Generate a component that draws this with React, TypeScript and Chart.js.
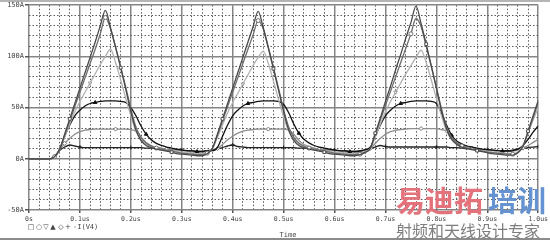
import React, { useEffect, useRef } from "react";
import { Chart, registerables } from "chart.js";

Chart.register(...registerables);

// time axis samples (us)
const times = [
  0, 0.01, 0.02, 0.03, 0.04, 0.05, 0.06, 0.07, 0.08, 0.09,
  0.1, 0.11, 0.12, 0.13, 0.14, 0.15, 0.16, 0.17, 0.18, 0.19,
  0.2, 0.21, 0.22, 0.23, 0.24, 0.25, 0.26, 0.27, 0.28, 0.29,
  0.3, 0.31, 0.32, 0.33, 0.34, 0.35, 0.36, 0.37, 0.38, 0.39,
  0.4, 0.41, 0.42, 0.43, 0.44, 0.45, 0.46, 0.47, 0.48, 0.49,
  0.5, 0.51, 0.52, 0.53, 0.54, 0.55, 0.56, 0.57, 0.58, 0.59,
  0.6, 0.61, 0.62, 0.63, 0.64, 0.65, 0.66, 0.67, 0.68, 0.69,
  0.7, 0.71, 0.72, 0.73, 0.74, 0.75, 0.76, 0.77, 0.78, 0.79,
  0.8, 0.81, 0.82, 0.83, 0.84, 0.85, 0.86, 0.87, 0.88, 0.89,
  0.9, 0.91, 0.92, 0.93, 0.94, 0.95, 0.96, 0.97, 0.98, 0.99,
  1.0,
];

// -I(V4) for six swept parameter values (A)
const seriesA = [
  0, 0, 0, 0, 0, 2, 9, 24, 39, 54, 69, 84, 99, 114, 130, 145, 128, 109, 89, 68,
  46, 28, 18, 13, 11, 9.5, 8.5, 7.5, 6.5, 5, 4.5, 4, 3.5, 3, 3, 5,
  10, 24, 39, 54, 69, 84, 99, 114, 129, 144, 128, 108, 88, 67, 46, 28, 18, 13, 11, 9.5,
  8.5, 7.5, 6.5, 5, 4.5, 4, 3.5, 3, 3, 4,
  6, 10, 25, 40, 56, 71, 87, 102, 118, 133, 149, 132, 112, 91, 69, 47, 29, 19, 14, 11.5,
  10, 9, 8, 7, 6, 5, 4.5, 4, 3.5, 3.5,
  6, 12, 27, 42, 57,
];
const seriesB = [
  0, 0, 0, 0, 0, 2, 9, 23, 37, 51, 65, 79, 93, 107, 122, 138, 127, 109, 90, 70,
  49, 31, 21, 15.5, 12.5, 10.5, 9.5, 8.5, 7.5, 6.5, 5.5, 5, 4.5, 4, 4, 5.5,
  10, 23, 37, 51, 65, 79, 93, 107, 121, 135, 127, 109, 89, 69, 48, 31, 21, 15.5, 12.5, 10.5,
  9.5, 8.5, 7.5, 6.5, 5.5, 5, 4.5, 4, 4, 4.5,
  6.5, 10, 24, 38, 52, 66, 80, 94, 108, 122, 137, 129, 110, 90, 70, 49, 31, 21, 15.5, 12.5,
  10.5, 9.5, 8.5, 7.5, 6.5, 6, 5.5, 5, 4.5, 4.5,
  6, 12, 26, 40, 55,
];
const seriesC = [
  0, 0, 0, 0, 0, 2, 9, 21, 34, 46, 56, 65, 74, 83, 92, 100, 107, 94, 77, 59,
  42, 27, 19, 14.5, 12, 10.5, 9.5, 8.5, 7.5, 7, 6.5, 6, 5.5, 5, 5, 6,
  10, 21, 33, 45, 55, 64, 73, 82, 91, 99, 105, 93, 76, 58, 41, 27, 19, 14.5, 12, 10.5,
  9.5, 8.5, 7.5, 7, 6.5, 6, 5.5, 5, 5, 5.5,
  7, 10, 21, 34, 46, 56, 65, 74, 83, 91, 99, 106, 94, 77, 59, 42, 27, 19, 14.5, 12,
  10.5, 9.5, 8.5, 7.5, 7, 6.5, 6, 5.5, 5, 5,
  7, 13, 25, 38, 50,
];
const seriesD = [
  0, 0, 0, 0, 0, 2, 9, 22, 33, 42, 47.5, 51.5, 54, 55, 56, 56.5, 56.5, 56.5, 56, 55,
  50, 42, 32, 24, 18.5, 15, 13, 11.5, 10.5, 9.5, 8.5, 8, 7.5, 7, 7, 8,
  8, 11, 22, 33, 42, 47.5, 51.5, 54, 55, 56, 56.5, 56.5, 56.5, 56, 53, 45, 34, 25, 19, 15.5,
  13, 11.5, 10.5, 9.5, 8.5, 8, 7.5, 7, 7, 7.5,
  9, 11, 22, 33, 42, 47.5, 51.5, 54, 55, 56, 56.5, 56.5, 56.5, 56, 54, 45, 33, 23, 17.5, 14.5,
  12.5, 11.5, 10.5, 9.5, 9, 8.5, 8, 7.5, 7.5, 8,
  9.5, 13, 19, 26, 32,
];
const seriesE = [
  0, 0, 0, 0, 0, 2, 9, 15, 20, 24, 26.5, 28, 28.5, 29, 29, 29, 29, 29, 29, 29,
  28.5, 27, 21, 16, 13, 11.5, 10.5, 9.5, 9, 8.5, 8, 7.5, 7, 6.5, 6.5, 7.5,
  8, 10, 14, 18.5, 22, 25, 27, 28, 28.5, 29, 29, 29, 29, 29, 29, 28, 24, 18, 14, 12,
  10.5, 9.5, 9, 8.5, 8, 7.5, 7, 6.5, 6.5, 7,
  8.5, 10, 15, 20, 24, 26.5, 28, 28.5, 29, 29.5, 29.5, 29.5, 29.5, 29.5, 29.5, 28.5, 27, 21, 16, 13,
  11.5, 10.5, 9.5, 9, 8.5, 8, 7.5, 7, 7, 7.5,
  8.5, 10.5, 13, 16, 19,
];
const seriesF = [
  0, 0, 0, 0, 0, 2, 8, 11.5, 13.5, 12.5, 11.5, 11, 11, 11, 11, 11, 11, 11, 11, 11,
  11, 11, 11, 10.5, 10.5, 10, 10, 9.5, 9, 9, 8.5, 8, 8, 7.5, 7.5, 8,
  8.5, 9.5, 11, 12.5, 13.5, 12, 11.5, 11, 11, 11, 11, 11, 11, 11, 11, 11, 11, 10.5, 10.5, 10,
  10, 9.5, 9, 9, 8.5, 8, 8, 7.5, 7.5, 8,
  8.5, 10, 11.5, 13, 12, 11.5, 11.5, 11.5, 11.5, 11.5, 11.5, 11.5, 11.5, 11.5, 11.5, 11.5, 11.5, 11, 11, 10.5,
  10, 10, 9.5, 9, 9, 8.5, 8, 8, 8, 8.5,
  9.5, 10, 11, 11.5, 12,
];

const xTickLabels = ["0s", "0.1us", "0.2us", "0.3us", "0.4us", "0.5us", "0.6us", "0.7us", "0.8us", "0.9us", "1.0us"];
const yTickValues = [-50, 0, 50, 100, 150];
const yTickLabels = ["-50A", "0A", "50A", "100A", "150A"];
const legendSymbols = ["□", "○", "▽", "▲", "◇", "+"];
const legendLabel = "-I(V4)";
const axisTitle = "Time";

const isMajorX = (v: number) => Math.round(v / 0.02) % 5 === 0;
const isMajorY = (v: number) => Math.round(v / 10) % 5 === 0;

const decor = {
  id: "decor",
  beforeDraw(chart: any) {
    const { ctx, width, height } = chart;
    ctx.save();
    ctx.fillStyle = "#ffffff";
    ctx.fillRect(0, 0, width, height);
    ctx.fillStyle = "#b4b4b4";
    ctx.fillRect(0, 0, width, 2);
    ctx.fillStyle = "#8c8c8c";
    ctx.fillRect(0, height - 2, width, 2);
    ctx.restore();
  },
  afterDraw(chart: any) {
    const { ctx } = chart;
    ctx.save();
    ctx.fillStyle = "#444";
    ctx.textBaseline = "middle";
    ctx.textAlign = "center";
    ctx.font = '7px "DejaVu Sans Mono"';
    ctx.fillText(axisTitle, 288, 235);
    const xs = [31, 39, 46, 53, 61, 68];
    ctx.font = '7px "DejaVu Sans"';
    legendSymbols.forEach((s, i) => ctx.fillText(s, xs[i], 227));
    ctx.textAlign = "left";
    ctx.font = '7px "DejaVu Sans Mono"';
    ctx.fillText(legendLabel, 73, 227);

    // watermark
    ctx.textAlign = "left";
    ctx.textBaseline = "middle";
    ctx.font = 'bold 29px "Noto Sans CJK SC"';
    ctx.fillStyle = "#e3727b";
    ctx.fillText("易迪拓", 396, 201);
    ctx.fillStyle = "#6592d0";
    ctx.fillText("培训", 488, 201);
    ctx.font = '16px "Noto Sans CJK SC"';
    ctx.fillStyle = "#7e7e7e";
    ctx.fillText("射频和天线设计专家", 396, 231);
    ctx.restore();
  },
};

const markerAt = (k: number) => (c: any) =>
  c.dataIndex > 4 && c.dataIndex % 10 === k ? 2 : 0;

export default function App() {
  const ref = useRef<HTMLCanvasElement>(null);
  useEffect(() => {
    document.body.style.margin = "0";
    const mk = (vals: number[]) => times.map((t, i) => ({ x: t, y: vals[i] }));
    const base = {
      borderWidth: 1.3,
      cubicInterpolationMode: "monotone" as const,
      pointBorderWidth: 1,
      pointBackgroundColor: "#ffffff",
      label: legendLabel,
    };
    const chart = new Chart(ref.current!, {
      type: "line",
      data: {
        datasets: [
          { ...base, data: mk(seriesA), borderColor: "#4a4a4a", pointBorderColor: "#4a4a4a", pointStyle: "rect", pointRadius: markerAt(8) },
          { ...base, data: mk(seriesB), borderColor: "#6e6e6e", pointBorderColor: "#6e6e6e", pointStyle: "circle", pointRadius: markerAt(5) },
          { ...base, data: mk(seriesC), borderColor: "#b2b2b2", pointBorderColor: "#999", pointStyle: "triangle", pointRotation: 180, pointRadius: markerAt(2) },
          { ...base, data: mk(seriesD), borderColor: "#111111", pointBorderColor: "#111", pointBackgroundColor: "#111", pointStyle: "triangle", pointRadius: markerAt(3) },
          { ...base, data: mk(seriesE), borderColor: "#8e8e8e", pointBorderColor: "#777", pointStyle: "rectRot", pointRadius: markerAt(7) },
          { ...base, data: mk(seriesF), borderColor: "#222222", pointBorderColor: "#222", pointStyle: "cross", pointRadius: markerAt(0) },
        ] as any,
      },
      options: {
        responsive: false,
        animation: false,
        layout: { padding: { top: 5, right: 2, left: 0, bottom: 0 } },
        plugins: { legend: { display: false }, tooltip: { enabled: false } },
        elements: { line: { fill: false } },
        scales: {
          x: {
            type: "linear",
            min: 0,
            max: 1,
            afterFit: (s: any) => { s.height = 30; },
            ticks: {
              stepSize: 0.02,
              maxTicksLimit: 200,
              autoSkip: false,
              maxRotation: 0,
              padding: 2,
              color: "#444",
              font: { family: "DejaVu Sans Mono", size: 6.5 },
              callback: (v: any) => {
                const i = Math.round(Number(v) / 0.02);
                return i % 5 === 0 ? xTickLabels[i / 5] : "";
              },
            },
            grid: {
              color: (c: any) => (c.tick && isMajorX(c.tick.value) ? "#858585" : "#5a5a5a"),
              lineWidth: (c: any) => (c.tick && isMajorX(c.tick.value) ? 1.5 : 1),
              tickLength: 3,
              tickColor: (c: any) => (c.tick && isMajorX(c.tick.value) ? "#555" : "rgba(0,0,0,0)"),
            },
            border: {
              display: false,
              dash: (c: any) => (c.tick && !isMajorX(c.tick.value) ? [1.5, 2] : []),
            },
          },
          y: {
            type: "linear",
            min: -50,
            max: 150,
            afterFit: (s: any) => { s.width = 29; },
            ticks: {
              stepSize: 10,
              maxTicksLimit: 200,
              autoSkip: false,
              padding: 1,
              color: "#444",
              font: { family: "DejaVu Sans Mono", size: 7 },
              callback: (v: any) => {
                const n = Number(v);
                if (!isMajorY(n)) return "";
                const idx = yTickValues.indexOf(Math.round(n));
                return idx >= 0 ? yTickLabels[idx] : "";
              },
            },
            grid: {
              color: (c: any) => (c.tick && isMajorY(c.tick.value) ? "#858585" : "#5a5a5a"),
              lineWidth: (c: any) => (c.tick && isMajorY(c.tick.value) ? 1.5 : 1),
              tickLength: 4,
              tickColor: (c: any) => (c.tick && isMajorY(c.tick.value) ? "#555" : "rgba(0,0,0,0)"),
            },
            border: {
              display: false,
              dash: (c: any) => (c.tick && !isMajorY(c.tick.value) ? [1.5, 2] : []),
            },
          },
        },
      } as any,
      plugins: [decor],
    });
    return () => chart.destroy();
  }, []);
  return (
    <div style={{ position: "absolute", left: 0, top: 0, width: 550, height: 240, background: "#fff" }}>
      <canvas ref={ref} width={550} height={240} style={{ display: "block" }} />
    </div>
  );
}
